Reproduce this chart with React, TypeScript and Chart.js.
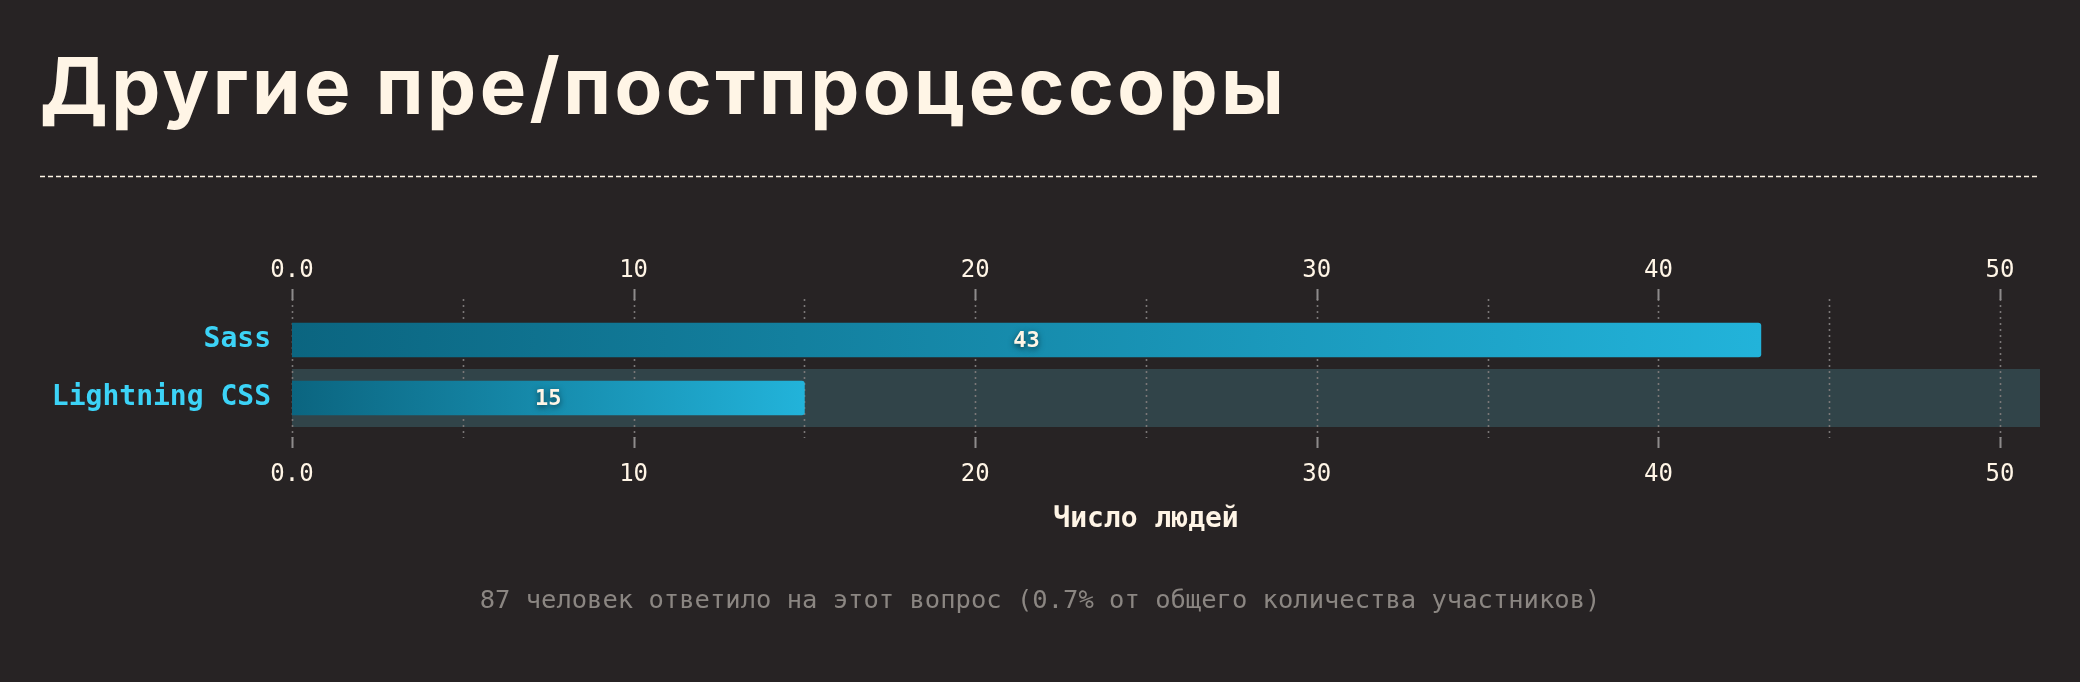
import React, { useEffect, useRef } from 'react';
import { Chart, registerables } from 'chart.js';

Chart.register(...registerables);

// ---------- data ----------
const TITLE = 'Другие пре/постпроцессоры';
const CATEGORIES = ['Sass', 'Lightning CSS'];
const COUNTS = [43, 15];
const TICK_VALUES = [0, 10, 20, 30, 40, 50];
const TICK_LABELS = ['0.0', '10', '20', '30', '40', '50'];
const X_MIN = 0;
const X_MAX = 50;
const MINOR_STEP = 5;
const AXIS_TITLE = 'Число людей';
const FOOTER = '87 человек ответило на этот вопрос (0.7% от общего количества участников)';

// ---------- styles ----------
const BG = '#272324';
const CREAM = '#fff5e6';
const CYAN = '#3cd3f7';
const BAND = '#314449';
const GRID = '#7a7777';
const TICK_MARK = '#8e8b8b';
const FOOTER_COLOR = '#8b8682';
const BAR_START = '#0b6580';
const BAR_END = '#22b3da';
const MONO = '"DejaVu Sans Mono", "Liberation Mono", monospace';

const tickLabel = (v: number) => {
  const i = TICK_VALUES.indexOf(v);
  return i >= 0 ? TICK_LABELS[i] : '';
};

const decorPlugin = {
  id: 'decor',
  beforeDraw(chart: any) {
    const { ctx, width } = chart;
    ctx.save();
    ctx.fillStyle = BG;
    ctx.fillRect(0, 0, chart.width, chart.height);

    // title
    ctx.fillStyle = CREAM;
    ctx.font = '700 78px Inter, "Noto Sans", sans-serif';
    ctx.textAlign = 'left';
    ctx.textBaseline = 'alphabetic';
    const plain = ctx.measureText(TITLE).width;
    const spacing = Math.max(0, (1244 - plain) / (TITLE.length - 1));
    (ctx as any).letterSpacing = spacing + 'px';
    ctx.fillText(TITLE, 40, 114);
    (ctx as any).letterSpacing = '0px';

    // dashed rule
    ctx.strokeStyle = CREAM;
    ctx.lineWidth = 1.5;
    ctx.setLineDash([5, 3]);
    ctx.beginPath();
    ctx.moveTo(40, 176.5);
    ctx.lineTo(2040, 176.5);
    ctx.stroke();
    ctx.setLineDash([]);

    // footer
    ctx.fillStyle = FOOTER_COLOR;
    ctx.font = '25.5px ' + MONO;
    ctx.textAlign = 'center';
    ctx.textBaseline = 'middle';
    ctx.fillText(FOOTER, width / 2, 601);
    ctx.restore();
  },
  beforeDatasetsDraw(chart: any) {
    const { ctx, chartArea } = chart;
    const x = chart.scales.x;
    const y = chart.scales.y;
    ctx.save();
    // alternating row band
    const slot = (chartArea.bottom - chartArea.top) / CATEGORIES.length;
    CATEGORIES.forEach((_, i) => {
      if (i % 2 === 1) {
        const cy = y.getPixelForValue(i);
        ctx.fillStyle = BAND;
        ctx.fillRect(chartArea.left, cy - slot / 2, chartArea.right + 40 - chartArea.left, slot);
      }
    });
    // grid
    x.ticks.forEach((t: any) => {
      const px = Math.round(x.getPixelForValue(t.value)) + 0.5;
      ctx.strokeStyle = GRID;
      ctx.lineWidth = 1.6;
      ctx.setLineDash([2, 4]);
      ctx.beginPath();
      ctx.moveTo(px, chartArea.top - 12);
      ctx.lineTo(px, chartArea.bottom + 11);
      ctx.stroke();
      if (TICK_VALUES.indexOf(t.value) >= 0) {
        ctx.setLineDash([]);
        ctx.strokeStyle = TICK_MARK;
        ctx.lineWidth = 2;
        ctx.beginPath();
        ctx.moveTo(px, chartArea.top - 22);
        ctx.lineTo(px, chartArea.top - 11);
        ctx.moveTo(px, chartArea.bottom + 10);
        ctx.lineTo(px, chartArea.bottom + 21);
        ctx.stroke();
      }
    });
    ctx.restore();
  },
  afterDatasetsDraw(chart: any) {
    const { ctx } = chart;
    const meta = chart.getDatasetMeta(0);
    ctx.save();
    ctx.font = '700 22px ' + MONO;
    ctx.fillStyle = CREAM;
    ctx.textAlign = 'center';
    ctx.textBaseline = 'middle';
    ctx.shadowColor = 'rgba(0,0,0,0.6)';
    ctx.shadowBlur = 6;
    ctx.shadowOffsetY = 2;
    meta.data.forEach((bar: any, i: number) => {
      const cx = (bar.x + bar.base) / 2;
      ctx.fillText(String(COUNTS[i]), cx, bar.y + 1);
    });
    ctx.restore();
  },
};

const barGradient = (c: any) => {
  const chart = c.chart;
  if (!chart.chartArea || !chart.scales.x) return BAR_END;
  const xs = chart.scales.x;
  const x0 = xs.getPixelForValue(0);
  const x1 = xs.getPixelForValue(c.raw ?? 0);
  if (!isFinite(x0) || !isFinite(x1) || x1 <= x0) return BAR_END;
  const g = chart.ctx.createLinearGradient(x0, 0, x1, 0);
  g.addColorStop(0, BAR_START);
  g.addColorStop(1, BAR_END);
  return g;
};

export default function App() {
  const ref = useRef<HTMLCanvasElement>(null);
  useEffect(() => {
    document.body.style.margin = '0';
    document.body.style.background = BG;
    const tickFont = { family: MONO, size: 24 };
    const xTicks = {
      color: CREAM,
      font: tickFont,
      stepSize: MINOR_STEP,
      autoSkip: false,
      maxRotation: 0,
      callback: (v: any) => tickLabel(Number(v)),
    };
    const chart = new Chart(ref.current!, {
      type: 'bar',
      data: {
        labels: CATEGORIES,
        datasets: [
          {
            data: COUNTS,
            backgroundColor: barGradient as any,
            barThickness: 34,
            borderRadius: 3,
            borderSkipped: 'start',
          },
        ],
      },
      plugins: [decorPlugin],
      options: {
        indexAxis: 'y',
        animation: false,
        responsive: false,
        devicePixelRatio: 1,
        layout: { padding: { left: 0, right: 80, top: 0, bottom: 145 } },
        plugins: { legend: { display: false }, tooltip: { enabled: false } },
        scales: {
          x: {
            type: 'linear',
            position: 'bottom',
            min: X_MIN,
            max: X_MAX,
            grid: { display: false, drawTicks: false },
            border: { display: false },
            ticks: { ...xTicks, padding: 33 },
            title: {
              display: true,
              text: AXIS_TITLE,
              color: CREAM,
              font: { family: MONO, size: 28, weight: 'bold' },
              padding: { top: 0, bottom: 0 },
            },
            afterFit: (s: any) => {
              s.height = 110;
            },
          },
          x2: {
            type: 'linear',
            position: 'top',
            min: X_MIN,
            max: X_MAX,
            grid: { display: false, drawTicks: false },
            border: { display: false },
            ticks: { ...xTicks, padding: 26 },
            afterFit: (s: any) => {
              s.height = 311;
            },
          },
          y: {
            type: 'category',
            offset: true,
            grid: { display: false, drawTicks: false },
            border: { display: false },
            ticks: {
              color: CYAN,
              font: { family: MONO, size: 28, weight: 'bold' },
              padding: 21,
            },
            afterFit: (s: any) => {
              s.width = 292;
            },
          },
        },
      } as any,
    });
    return () => chart.destroy();
  }, []);
  return (
    <div style={{ width: 2080, height: 682, background: BG }}>
      <canvas ref={ref} width={2080} height={682} style={{ display: 'block', width: 2080, height: 682 }} />
    </div>
  );
}
